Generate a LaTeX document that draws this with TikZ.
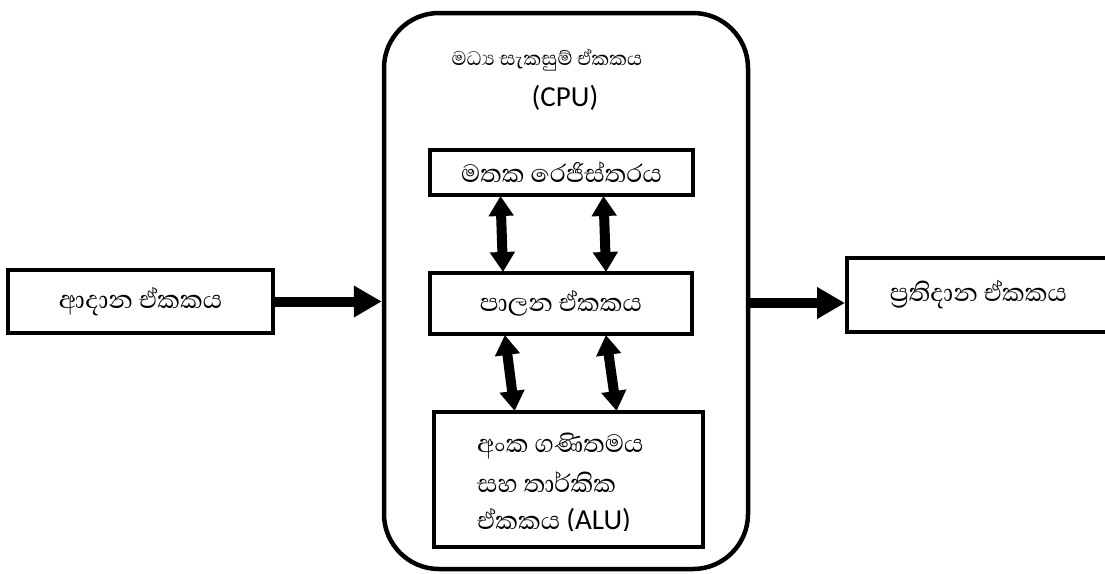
\documentclass[tikz,border=0pt]{standalone}
\usepackage{fontspec}
\usetikzlibrary{arrows.meta}
\newfontfamily\sinhfont[Script=Sinhala]{Abhaya Libre}
\newfontfamily\latfont{Carlito}
\begin{document}
\begin{tikzpicture}[x=1pt,y=-1pt,
  box/.style={draw, line width=4pt, rectangle, inner sep=0pt},
  sn/.style={font=\sinhfont\fontsize{32}{36}\selectfont},
  snt/.style={font=\sinhfont\fontsize{25}{30}\selectfont},
  la/.style={font=\latfont\fontsize{29}{34}\selectfont},
  harr/.style={line width=10pt, -{Triangle[width=30pt,length=28pt]}},
  varr/.style={line width=10pt, {Triangle[width=24pt,length=20pt]}-{Triangle[width=24pt,length=20pt]}, shorten <=-1pt, shorten >=-1pt}
]
\useasboundingbox (0,0) rectangle (1105,573);
\fill[white] (0,0) rectangle (1105,573);
% CPU
\node[draw, line width=4.5pt, rounded corners=55pt, minimum width=364pt, minimum height=556pt, inner sep=0pt] (cpu) at (566,291) {};
\node[snt] (title) at (547,60) {මධ්^^^^200dය සැකසුම් ඒකකය};
\node[la] (cpulbl) at (565,98) {(CPU)};
% inner boxes
\node[box, sn, minimum width=263pt, minimum height=45pt] (reg) at (561.5,172.5) {මතක රෙජිස්තරය};
\node[box, sn, minimum width=262pt, minimum height=61pt] (ctl) at (561,303.5) {පාලන ඒකකය};
\node[box, minimum width=269pt, minimum height=135pt] (alu) at (568.5,479.5) {};
\node[sn, anchor=west, inner sep=0pt] (alu1) at (477,446) {අංක ගණිතමය};
\node[sn, anchor=west, inner sep=0pt] (alu2) at (477,482) {සහ තාර්කික};
\begin{scope}
\clip (400,400) rectangle (700,530);
\node[sn, anchor=west, inner sep=0pt] (alu3) at (477,521) {ඒකකය {\latfont\fontsize{29}{34}\selectfont (ALU)}};
\end{scope}
% outer boxes
\node[box, sn, minimum width=265pt, minimum height=63pt] (inp) at (140.5,301.5) {ආදාන ඒකකය};
\node[box, sn, minimum width=263pt, minimum height=74pt] (out) at (978.5,295) {ප්^^^^200dරතිදාන ඒකකය};
% arrows
\draw[harr] (inp.east) -- (inp.east -| cpu.west);
\draw[harr] (cpu.east |- 0,303) -- (out.west |- 0,303);
\draw[varr] ([xshift=-61pt]reg.south) -- ([xshift=-58pt]ctl.north);
\draw[varr] ([xshift=42pt]reg.south) -- ([xshift=45pt]ctl.north);
\draw[varr] ([xshift=-56pt]ctl.south) -- ([xshift=-54pt]alu.north);
\draw[varr] ([xshift=45pt]ctl.south) -- ([xshift=48pt]alu.north);
\end{tikzpicture}
\end{document}
